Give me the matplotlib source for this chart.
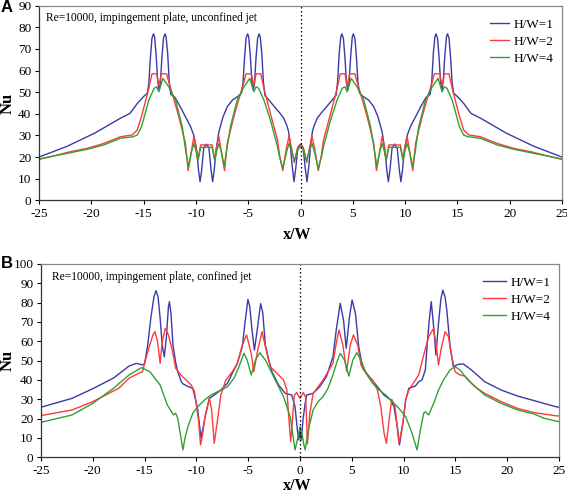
import matplotlib
matplotlib.use("Agg")
import matplotlib.pyplot as plt

plt.rcParams["axes.unicode_minus"] = False

# ---------------- Panel A: unconfined jet ----------------
a_blue_x = [-25, -22.3, -19.7, -17.2, -16.3, -15.6, -15.0, -14.65, -14.5, -14.35, -14.2, -14.05, -13.95, -13.8, -13.65, -13.52, -13.4, -13.25, -13.1, -12.95, -12.85, -12.7, -12.55, -12.4, -12.0, -11.5, -11.0, -10.5, -10.2, -9.95, -9.75, -9.6, -9.45, -9.25, -9.0, -8.75, -8.55, -8.4, -8.25, -8.05, -7.8, -7.4, -7.0, -6.5, -6.0, -5.65, -5.5, -5.35, -5.2, -5.05, -4.95, -4.8, -4.65, -4.52, -4.4, -4.25, -4.1, -3.95, -3.85, -3.7, -3.55, -3.4, -3.0, -2.5, -2.0, -1.6, -1.3, -1.15, -1.0, -0.8, -0.62, -0.45, -0.25, 0.0,
            0.25, 0.45, 0.62, 0.8, 1.0, 1.15, 1.3, 1.6, 2.0, 2.5, 3.0, 3.4, 3.55, 3.7, 3.85, 3.95, 4.1, 4.25, 4.4, 4.52, 4.65, 4.8, 4.95, 5.05, 5.2, 5.35, 5.5, 5.65, 6.0, 6.5, 7.0, 7.4, 7.8, 8.05, 8.25, 8.4, 8.55, 8.75, 9.0, 9.25, 9.45, 9.6, 9.75, 9.95, 10.2, 10.5, 11.0, 11.5, 12.0, 12.4, 12.55, 12.7, 12.85, 12.95, 13.1, 13.25, 13.4, 13.52, 13.65, 13.8, 13.95, 14.05, 14.2, 14.35, 14.5, 14.65, 15.0, 15.6, 16.3, 17.2, 19.7, 22.3, 25]
a_blue_y = [20, 25, 31, 38, 40.2, 44.8, 48, 49.5, 54, 66, 75, 77, 75.5, 67, 55, 51, 54, 66, 75, 77, 75.5, 68, 55, 49, 47.6, 43.3, 38.7, 34, 30, 24, 14, 8.6, 14, 24, 26, 24, 14, 8.6, 14, 24, 31.7, 38.7, 43.3, 46.4, 48, 49.5, 54, 66, 75, 77, 75.5, 67, 55, 51, 54, 66, 75, 77, 75.5, 68, 55, 48.5, 46.2, 43.3, 40.5, 38, 34.5, 32, 27, 16, 8.6, 15, 24.5, 26,
            24.5, 15, 8.6, 16, 27, 32, 34.5, 38, 40.5, 43.3, 46.2, 48.5, 55, 68, 75.5, 77, 75, 66, 54, 51, 55, 67, 75.5, 77, 75, 66, 54, 49.5, 48, 46.4, 43.3, 38.7, 31.7, 24, 14, 8.6, 14, 24, 26, 24, 14, 8.6, 14, 24, 30, 34, 38.7, 43.3, 47.6, 49, 55, 68, 75.5, 77, 75, 66, 54, 51, 55, 67, 75.5, 77, 75, 66, 54, 49.5, 48, 44.8, 40.2, 38, 31, 25, 20]

a_red_x = [-25, -23.6, -22.0, -20.4, -18.8, -17.2, -16.1, -15.6, -15.13, -14.5, -14.2, -13.75, -13.54, -13.3, -12.8, -12.55, -12.27, -11.63, -11.0, -10.74, -10.45, -10.2, -10.0, -9.8, -9.55, -8.45, -8.2, -8.0, -7.8, -7.55, -7.26, -7.0, -6.37, -5.73, -5.45, -5.2, -4.7, -4.46, -4.25, -3.8, -3.5, -2.87, -2.2, -2.0, -1.7, -1.35, -1.1, -0.85, -0.6, -0.3, 0.0,
           0.3, 0.6, 0.85, 1.1, 1.35, 1.7, 2.0, 2.2, 2.87, 3.5, 3.8, 4.25, 4.46, 4.7, 5.2, 5.45, 5.73, 6.37, 7.0, 7.26, 7.55, 7.8, 8.0, 8.2, 8.45, 9.55, 9.8, 10.0, 10.2, 10.45, 10.74, 11.0, 11.63, 12.27, 12.55, 12.8, 13.3, 13.54, 13.75, 14.2, 14.5, 15.13, 15.6, 16.1, 17.2, 18.8, 20.4, 22.0, 23.6, 25]
a_red_y = [19, 20.5, 22.5, 24, 26.3, 29.4, 30.2, 32.5, 40, 51.8, 58.5, 58.5, 53, 58.5, 58.5, 54, 49.5, 38.7, 26.3, 13.7, 22, 29.4, 25, 18.6, 25.6, 25.6, 18.6, 25, 29.4, 22, 13.7, 26.3, 38.7, 49.5, 54, 58.5, 58.5, 53, 58.5, 58.5, 51.8, 40, 27.9, 21, 13.7, 24, 29.7, 24, 17.5, 24, 25.6,
           24, 17.5, 24, 29.7, 24, 13.7, 21, 27.9, 40, 51.8, 58.5, 58.5, 53, 58.5, 58.5, 54, 49.5, 38.7, 26.3, 13.7, 22, 29.4, 25, 18.6, 25.6, 25.6, 18.6, 25, 29.4, 22, 13.7, 26.3, 38.7, 49.5, 54, 58.5, 58.5, 53, 58.5, 58.5, 51.8, 40, 32.5, 30.2, 29.4, 26.3, 24, 22.5, 20.5, 19]

a_green_x = [-25, -23.6, -22.0, -20.4, -18.8, -17.2, -16.0, -15.6, -15.2, -14.5, -14.0, -13.75, -13.54, -13.15, -12.6, -11.95, -11.3, -10.95, -10.7, -10.45, -10.2, -10.0, -9.8, -9.55, -8.45, -8.2, -8.0, -7.8, -7.55, -7.3, -7.1, -6.7, -6.05, -5.4, -4.85, -4.46, -4.25, -4.0, -3.5, -2.87, -2.2, -2.0, -1.7, -1.35, -1.1, -0.85, -0.57, -0.3, 0.0,
             0.3, 0.57, 0.85, 1.1, 1.35, 1.7, 2.0, 2.2, 2.87, 3.5, 4.0, 4.25, 4.46, 4.85, 5.4, 6.05, 6.7, 7.1, 7.3, 7.55, 7.8, 8.0, 8.2, 8.45, 9.55, 9.8, 10.0, 10.2, 10.45, 10.7, 10.95, 11.3, 11.95, 12.6, 13.15, 13.54, 13.75, 14.0, 14.5, 15.2, 15.6, 16.0, 17.2, 18.8, 20.4, 22.0, 23.6, 25]
a_green_y = [19, 20.5, 22, 23.6, 25.6, 28.7, 29.4, 30.2, 34, 46.4, 51.8, 52.5, 50.2, 56.4, 52.5, 46.4, 34, 22, 15.6, 22, 26.3, 23, 18.5, 24.5, 24.5, 18.5, 23, 26.3, 22, 15.6, 22, 34, 46.4, 52.5, 56.4, 50.2, 52.5, 51.8, 46.4, 37, 24.8, 20, 14.8, 22, 26.3, 23, 18.3, 23, 24.8,
             23, 18.3, 23, 26.3, 22, 14.8, 20, 24.8, 37, 46.4, 51.8, 52.5, 50.2, 56.4, 52.5, 46.4, 34, 22, 15.6, 22, 26.3, 23, 18.5, 24.5, 24.5, 18.5, 23, 26.3, 22, 15.6, 22, 34, 46.4, 52.5, 56.4, 50.2, 52.5, 51.8, 46.4, 34, 30.2, 29.4, 28.7, 25.6, 23.6, 22, 20.5, 19]

# ---------------- Panel B: confined jet ----------------
b_blue_x = [-25, -22, -20, -18, -16.5, -15.8, -15.2, -15.0, -14.7, -14.4, -14.1, -13.9, -13.7, -13.5, -13.3, -13.1, -12.9, -12.7, -12.6, -12.45, -12.26, -12.0, -11.8, -11.46, -11.3, -10.8, -10.35, -10.03, -9.87, -9.55, -9.3, -9.16, -8.75, -8.28, -7.64, -7.0, -6.53, -6.05, -5.57, -5.3, -5.03, -4.85, -4.65, -4.4, -4.15, -3.8, -3.6, -3.34, -3.0, -2.7, -2.07, -1.43, -0.8, -0.48, -0.25, -0.12, 0.0,
            0.12, 0.3, 0.5, 0.64, 1.27, 1.9, 2.55, 3.18, 3.5, 3.88, 4.2, 4.46, 4.78, 5.03, 5.35, 5.67, 6.05, 6.69, 7.48, 8.1, 8.76, 9.07, 9.39, 9.6, 9.93, 10.2, 10.5, 11.14, 11.46, 11.78, 12.1, 12.3, 12.48, 12.67, 12.9, 13.12, 13.37, 13.6, 13.79, 14.0, 14.17, 14.49, 14.8, 15.28, 15.76, 16.55, 17.83, 19.42, 21.0, 22.6, 24.67, 25]
b_blue_y = [25.9, 30.5, 35.5, 41, 47.2, 48.6, 47.8, 48.5, 58, 72, 83, 86.2, 83, 72, 58, 52, 62, 78, 80.5, 74, 58, 49, 44.3, 39.1, 38, 36.6, 35.7, 28.8, 24.5, 9.8, 17, 21, 30.5, 32.2, 34.8, 38.3, 43.5, 48.6, 57.2, 70, 81.7, 78, 66.7, 55.5, 65, 79.5, 75, 58, 50, 44.3, 37.4, 33.1, 32.2, 26.2, 14, 9, 14,
            9, 20, 28, 32.2, 33.1, 36.5, 41.7, 52, 65.9, 79.7, 71, 56.4, 72.7, 81.4, 74.5, 57.2, 46, 41.7, 36.5, 32.2, 29.6, 26.2, 15.8, 6.4, 17.6, 29.6, 35.7, 36.9, 39.1, 40, 45.2, 60, 71, 80.5, 67.6, 52.9, 69.3, 82, 86.5, 83, 76.2, 57.2, 46.9, 48.1, 48.3, 45.2, 39.1, 34.8, 31.7, 29.3, 26.2, 25.9]

b_red_x = [-25, -22, -20, -17.5, -16.5, -15.6, -15.2, -15.0, -14.6, -14.2, -14.0, -13.75, -13.5, -13.3, -13.0, -12.7, -12.3, -12.0, -11.5, -11.0, -10.5, -10.19, -9.8, -9.6, -9.4, -9.16, -8.75, -8.53, -8.28, -7.96, -7.64, -7.16, -6.53, -6.05, -5.57, -5.16, -4.71, -4.46, -4.08, -3.66, -3.34, -2.87, -2.23, -1.59, -1.27, -1.1, -0.9, -0.75, -0.55, -0.32, 0.0,
           0.32, 0.55, 0.72, 0.95, 1.27, 1.75, 2.23, 2.7, 3.18, 3.5, 3.76, 4.14, 4.5, 4.85, 5.16, 5.57, 5.89, 6.37, 7.0, 7.48, 7.8, 8.12, 8.34, 8.6, 8.85, 9.17, 9.39, 9.55, 9.93, 10.2, 10.5, 11.14, 11.46, 11.94, 12.42, 12.9, 13.2, 13.37, 13.6, 14.0, 14.33, 14.65, 14.97, 15.44, 15.92, 16.87, 17.83, 19.42, 21.0, 22.6, 24.67, 25]
b_red_y = [21.6, 24.5, 28.8, 35.7, 40.9, 43.4, 44.3, 48.6, 56.4, 63.3, 65, 60, 48.6, 59.8, 66.7, 63.3, 54.7, 46, 42.6, 40, 37.4, 34, 19.3, 6.4, 12, 21, 30.5, 24.5, 7.2, 19.3, 32.2, 40, 44.3, 48.6, 58.1, 63.3, 53.8, 44.3, 55.5, 65, 57.2, 46.9, 43.5, 40, 34.8, 22, 8, 18, 32, 33.5, 30.5,
           33.5, 31, 7, 22.8, 33, 36.5, 40, 44.3, 48.6, 59, 65.9, 58, 44.5, 58, 63.3, 58.1, 47.7, 43.5, 40, 34.8, 26.2, 12.4, 7.2, 19.3, 30, 26.2, 15.8, 7.2, 17.6, 29.6, 34.8, 40, 42.6, 52.9, 62.4, 66.7, 55.5, 47.7, 55.5, 65, 62.4, 52, 44.3, 42.6, 42, 36.5, 33.1, 28.8, 25.3, 23.1, 21.5, 21.4]

b_green_x = [-25, -22, -20, -18, -16.5, -15.3, -14.5, -13.5, -12.8, -12.2, -12.0, -11.8, -11.55, -11.3, -11.1, -10.82, -10.35, -9.87, -9.23, -8.6, -7.64, -7.0, -6.37, -5.89, -5.41, -5.1, -4.71, -4.3, -3.88, -3.34, -2.87, -2.23, -1.59, -0.95, -0.7, -0.48, -0.3, -0.16, 0.0,
             0.22, 0.35, 0.5, 0.8, 1.27, 1.75, 2.23, 2.7, 3.18, 3.57, 3.88, 4.3, 4.71, 5.1, 5.48, 5.89, 6.37, 7.0, 7.64, 8.28, 8.91, 9.55, 10.2, 10.82, 11.3, 11.62, 11.94, 12.1, 12.42, 12.9, 13.37, 13.85, 14.49, 14.97, 15.44, 16.2, 17.83, 19.42, 21.0, 22.6, 23.56, 25]
b_green_y = [18.1, 21.9, 27.9, 35.7, 42.6, 46.4, 44.3, 37.4, 27, 21.9, 22.8, 20.2, 12, 3.8, 10, 15.8, 22.8, 26.2, 29.6, 32.2, 34.8, 36.5, 40.9, 46.9, 53.8, 50.3, 42.6, 50.3, 54.1, 50.3, 45.2, 38.3, 31.4, 21, 12, 3.8, 8, 11.5, 15.8,
             11.5, 7, 3.8, 14.1, 24.5, 28.8, 31.4, 35.7, 42.6, 49.5, 53.8, 50.3, 42, 50.3, 54.1, 50.3, 43.5, 38.3, 34.8, 32.2, 28.8, 25.3, 21, 12.4, 3.8, 14.1, 22.8, 23.6, 21.9, 27.9, 34.8, 40, 45.2, 46.9, 45.2, 40, 32.2, 27.9, 24.5, 22.4, 20.2, 18.4]

series_labels = ["H/W=1", "H/W=2", "H/W=4"]
x_ticks = [-25, -20, -15, -10, -5, 0, 5, 10, 15, 20, 25]
a_yticks = [0, 10, 20, 30, 40, 50, 60, 70, 80, 90]
b_yticks = [0, 10, 20, 30, 40, 50, 60, 70, 80, 90, 100]
a_title = "Re=10000, impingement plate, unconfined jet"
b_title = "Re=10000, impingement plate, confined jet"

colors = ["#3a3aaa", "#ff3a3a", "#33a033"]
serif = ["Liberation Serif", "DejaVu Serif"]

W, H = 567, 496
fig = plt.figure(figsize=(W / 100, H / 100), dpi=100)


def make_axes(l, r, t, b):
    return fig.add_axes([l / W, 1 - b / H, (r - l) / W, (b - t) / H])


axA = make_axes(39, 562, 5.7, 200.3)
axB = make_axes(41, 559, 264, 457.3)

panels = [
    (axA, [(a_blue_x, a_blue_y), (a_red_x, a_red_y), (a_green_x, a_green_y)], a_yticks, 90, a_title, "A",
     (39, 562, 5.7, 200.3), 227, (1.006, 0.995), 1.5, 46),
    (axB, [(b_blue_x, b_blue_y), (b_red_x, b_red_y), (b_green_x, b_green_y)], b_yticks, 100, b_title, "B",
     (41, 559, 264, 457.3), 477.5, (1.006, 0.995), 1.75, 52),
]

for ax, data, yticks, ymax, title, letter, box, xlab_top, leg_anchor, hl, title_px in panels:
    l, r, t, b = box
    for (xs, ys), c, lab in zip(data, colors, series_labels):
        ax.plot(xs, ys, color=c, lw=1.0, label=lab)
    ax.axvline(0, color="black", lw=0.9, ls=(0, (1.2, 2)))
    ax.set_xlim(-25, 25)
    ax.set_ylim(0, ymax)
    ax.set_xticks(x_ticks)
    ax.set_yticks(yticks)
    ax.tick_params(direction="out", length=3, width=0.8, labelsize=9.5, pad=2.5)
    for lbl in ax.get_xticklabels() + ax.get_yticklabels():
        lbl.set_family(serif)
    for s in ["left", "bottom"]:
        ax.spines[s].set_color("#333333")
        ax.spines[s].set_linewidth(0.9)
    for s in ["top", "right"]:
        ax.spines[s].set_color("#888888")
        ax.spines[s].set_linewidth(0.9)
    ax.set_ylabel("Nu", family=serif, fontsize=12, fontweight="bold")
    ax.yaxis.label.set_va("center")
    ax.yaxis.label.set_ha("center")
    ax.yaxis.set_label_coords((8 - l) / (r - l), 0.5)
    ax.set_xlabel("x/W", family=serif, fontsize=11.5, fontweight="bold")
    ax.xaxis.label.set_va("top")
    ax.xaxis.set_label_coords((297 - l) / (r - l), (b - xlab_top) / (b - t))
    ax.text((title_px - l) / (r - l), 0.935, title, transform=ax.transAxes, family=serif,
            fontsize=8.3, va="center", ha="left")
    ax.legend(loc="upper right", bbox_to_anchor=leg_anchor, frameon=False,
              prop={"family": serif, "size": 9.5},
              handlelength=hl, handletextpad=0.3, labelspacing=0.36, borderaxespad=0.5)

fig.text(1 / W, 1 - 8 / H, "A", family=["Liberation Sans", "DejaVu Sans"], fontsize=12, fontweight="bold", va="center", ha="left")
fig.text(1 / W, 1 - 263 / H, "B", family=["Liberation Sans", "DejaVu Sans"], fontsize=12, fontweight="bold", va="center", ha="left")

fig.savefig("out.png", dpi=100)
